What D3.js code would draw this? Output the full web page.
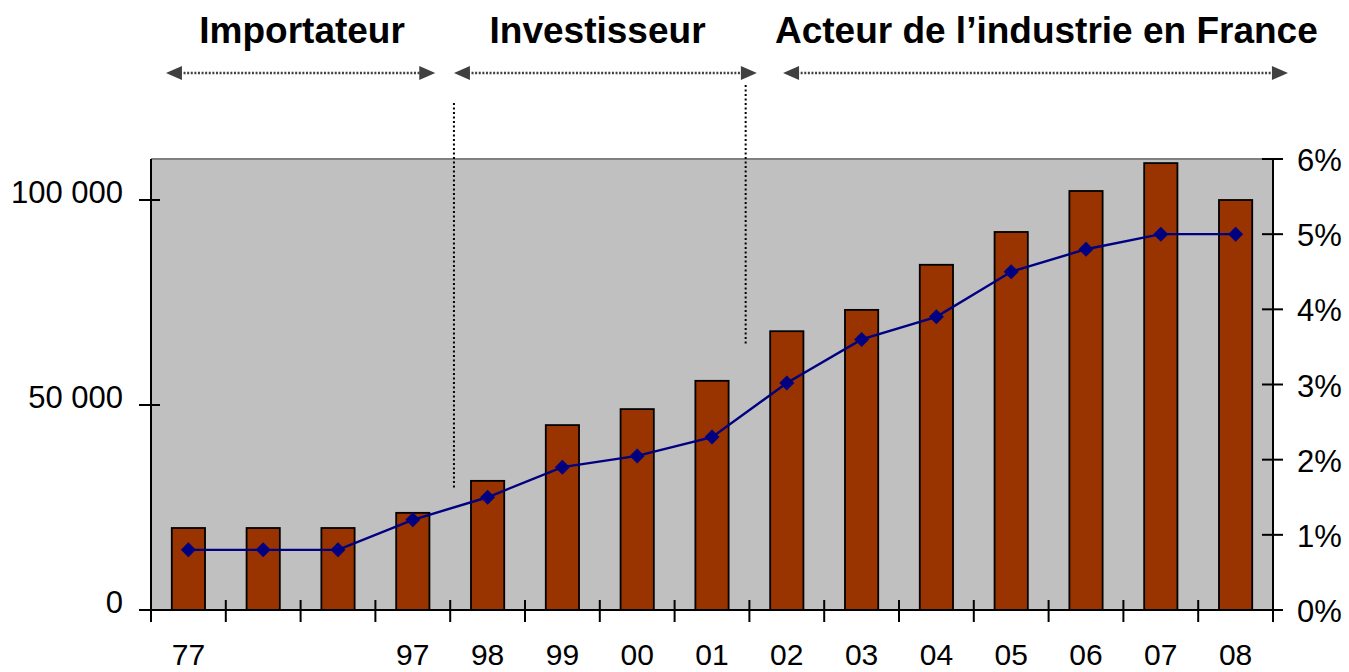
<!DOCTYPE html>
<html>
<head>
<meta charset="utf-8">
<script src="https://cdn.jsdelivr.net/npm/d3@7"></script>
<style>
  html, body { margin: 0; padding: 0; background: #fff; }
  svg { display: block; font-family: "Liberation Sans", Arial, sans-serif; }
</style>
</head>
<body>
<svg id="chart" width="1349" height="672"></svg>
<script>
// ---- Data ------------------------------------------------------------------
var years = ['77', 'a', 'b', '97', '98', '99', '00', '01', '02', '03', '04', '05', '06', '07', '08'];
var yearLabels = ['77', '', '', '97', '98', '99', '00', '01', '02', '03', '04', '05', '06', '07', '08'];
var volumes = [20000, 20000, 20000, 23700, 31500, 45100, 49000, 55900, 68000, 73200, 84200, 92200, 102200, 109000, 100000];
var shares = [0.8, 0.8, 0.8, 1.2, 1.5, 1.9, 2.05, 2.3, 3.02, 3.6, 3.9, 4.5, 4.8, 5.0, 5.0];
var leftTicks = [0, 50000, 100000];
var rightTicks = [0, 1, 2, 3, 4, 5, 6];
// phases: label, arrow span in category units, title centre in category units
var phases = [
  { label: 'Importateur', from: 0.2, to: 3.8, mid: 2.02 },
  { label: 'Investisseur', from: 4.05, to: 8.1, mid: 5.97 },
  { label: 'Acteur de l\u2019industrie en France', from: 8.45, to: 15.2, mid: 11.97 }
];
var phaseBreaks = [{ at: 4.05, top: 103, bottom: 490 }, { at: 7.95, top: 85, bottom: 345 }];

// ---- Layout ----------------------------------------------------------------
var plot = { left: 151, right: 1273, top: 159, bottom: 610 };
var svg = d3.select('#chart');

var x = d3.scaleBand().domain(years).range([plot.left, plot.right]).paddingInner(0).paddingOuter(0);
var xPos = d3.scaleLinear().domain([0, years.length]).range([plot.left, plot.right]);
var yL = d3.scaleLinear().domain([0, 110000]).range([plot.bottom, plot.top]);
var yR = d3.scaleLinear().domain([0, 6]).range([plot.bottom, plot.top]);

// background
svg.append('rect')
  .attr('x', plot.left).attr('y', plot.top)
  .attr('width', plot.right - plot.left).attr('height', plot.bottom - plot.top)
  .attr('fill', '#c0c0c0');
svg.append('line')
  .attr('x1', plot.left).attr('x2', plot.right)
  .attr('y1', plot.top).attr('y2', plot.top)
  .attr('stroke', '#808080').attr('stroke-width', 2);

// bars
var barW = x.bandwidth() / 2.25;
svg.append('g').selectAll('rect').data(volumes).join('rect')
  .attr('x', function(d, i) { return x(years[i]) + (x.bandwidth() - barW) / 2; })
  .attr('y', function(d) { return yL(d); })
  .attr('width', barW)
  .attr('height', function(d) { return yL(0) - yL(d); })
  .attr('fill', '#993300')
  .attr('stroke', '#000').attr('stroke-width', 1.8);

// axes lines
var axes = svg.append('g').attr('stroke', '#000').attr('stroke-width', 2);
axes.append('line').attr('x1', plot.left).attr('x2', plot.left).attr('y1', plot.top).attr('y2', plot.bottom);
axes.append('line').attr('x1', plot.right).attr('x2', plot.right).attr('y1', plot.top).attr('y2', plot.bottom);
axes.append('line').attr('x1', plot.left - 12).attr('x2', plot.right + 10).attr('y1', plot.bottom).attr('y2', plot.bottom);

// left ticks
leftTicks.forEach(function(t) {
  axes.append('line').attr('x1', plot.left - 12).attr('x2', plot.left + 9).attr('y1', yL(t)).attr('y2', yL(t));
});
svg.append('g').selectAll('text').data(leftTicks).join('text')
  .attr('x', 123).attr('y', function(d) { return yL(d) + 3; })
  .attr('text-anchor', 'end').attr('font-size', 31).attr('fill', '#000')
  .text(function(d) { return d === 0 ? '0' : d3.format(',')(d).replace(/,/g, ' '); });

// right ticks
rightTicks.forEach(function(t) {
  axes.append('line').attr('x1', plot.right - 11).attr('x2', plot.right + 10).attr('y1', yR(t)).attr('y2', yR(t));
});
svg.append('g').selectAll('text').data(rightTicks).join('text')
  .attr('x', 1297).attr('y', function(d) { return yR(d) + 12; })
  .attr('text-anchor', 'start').attr('font-size', 31).attr('fill', '#000')
  .text(function(d) { return d + '%'; });

// category ticks (between bars, crossing the axis)
d3.range(years.length + 1).forEach(function(i) {
  axes.append('line')
    .attr('x1', xPos(i)).attr('x2', xPos(i))
    .attr('y1', i === 0 ? plot.bottom : plot.bottom - 10).attr('y2', plot.bottom + 12);
});
svg.append('g').selectAll('text').data(yearLabels).join('text')
  .attr('x', function(d, i) { return x(years[i]) + x.bandwidth() / 2; })
  .attr('y', 665)
  .attr('text-anchor', 'middle').attr('font-size', 30).attr('fill', '#000')
  .text(function(d) { return d; });

// share line
var line = d3.line()
  .x(function(d, i) { return x(years[i]) + x.bandwidth() / 2; })
  .y(function(d) { return yR(d); });
svg.append('path').datum(shares)
  .attr('d', line).attr('fill', 'none')
  .attr('stroke', '#000080').attr('stroke-width', 2.4);
svg.append('g').selectAll('path').data(shares).join('path')
  .attr('transform', function(d, i) { return 'translate(' + (x(years[i]) + x.bandwidth() / 2) + ',' + yR(d) + ')'; })
  .attr('d', 'M0,-7.5L7.5,0L0,7.5L-7.5,0Z')
  .attr('fill', '#000080');

// phase titles and arrows
var arrowY = 73;
phases.forEach(function(p) {
  var x1 = xPos(p.from), x2 = xPos(p.to);
  svg.append('text')
    .attr('x', xPos(p.mid)).attr('y', 43)
    .attr('text-anchor', 'middle').attr('font-size', 37).attr('font-weight', 'bold')
    .attr('fill', '#000').text(p.label);
  svg.append('line')
    .attr('x1', x1 + 14).attr('x2', x2 - 14).attr('y1', arrowY).attr('y2', arrowY)
    .attr('stroke', '#404040').attr('stroke-width', 2.5).attr('stroke-dasharray', '2,1.6');
  svg.append('path')
    .attr('d', 'M' + x1 + ',' + arrowY + 'l16,-7v14z').attr('fill', '#404040');
  svg.append('path')
    .attr('d', 'M' + x2 + ',' + arrowY + 'l-16,-7v14z').attr('fill', '#404040');
});

// vertical dotted separators
phaseBreaks.forEach(function(b) {
  svg.append('line')
    .attr('x1', xPos(b.at)).attr('x2', xPos(b.at))
    .attr('y1', b.top).attr('y2', b.bottom)
    .attr('stroke', '#000').attr('stroke-width', 2).attr('stroke-dasharray', '2,2.5');
});
</script>
</body>
</html>
